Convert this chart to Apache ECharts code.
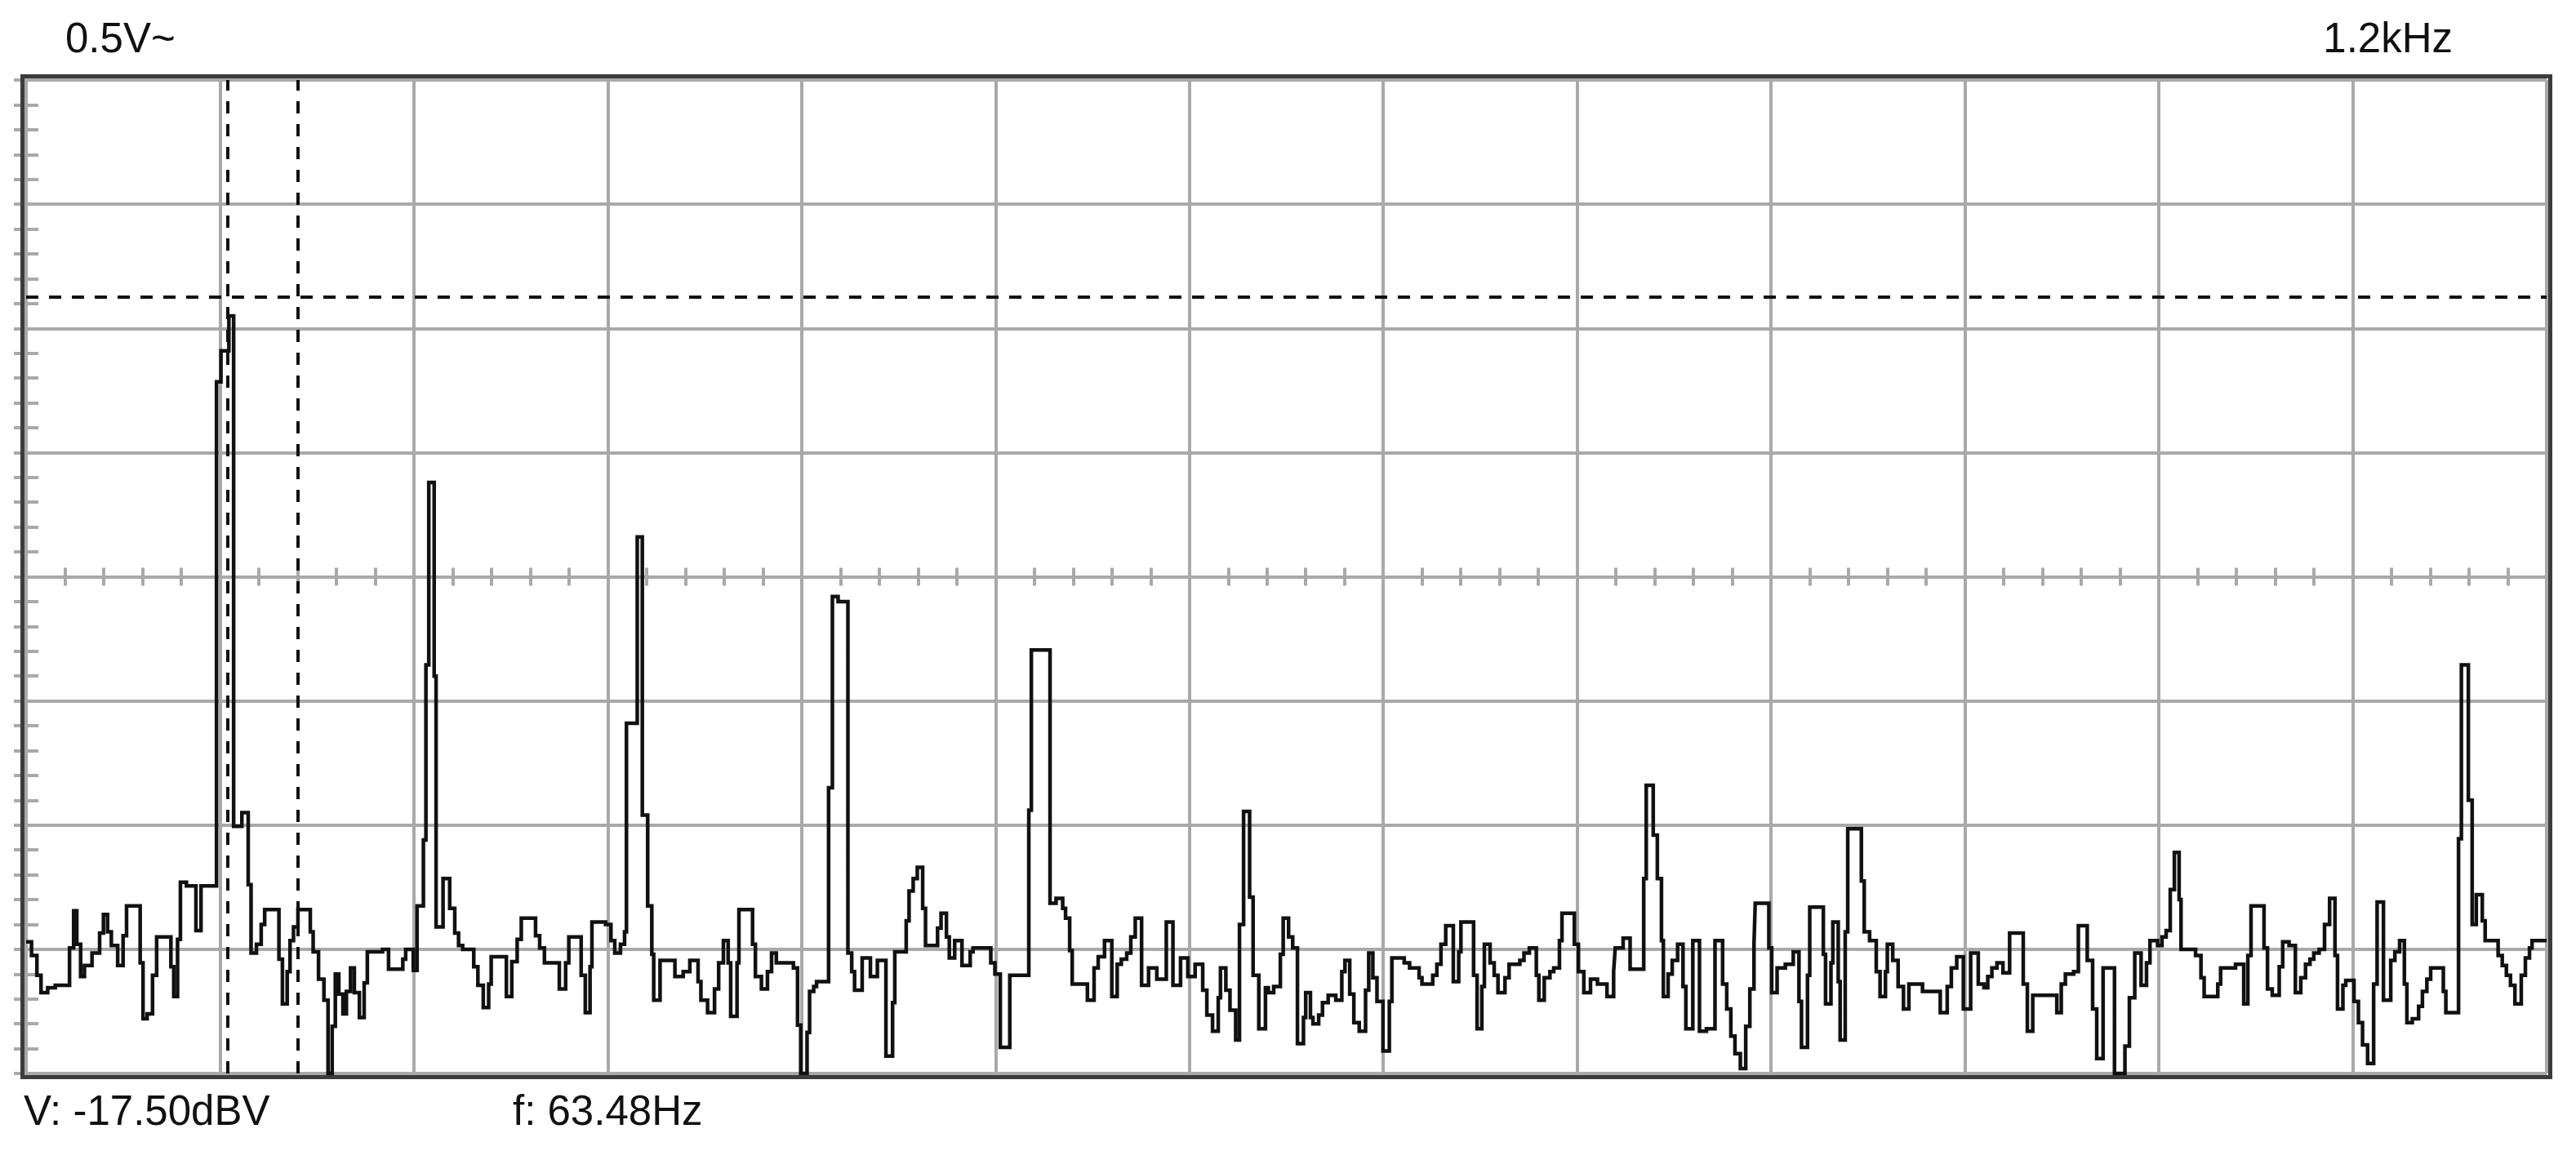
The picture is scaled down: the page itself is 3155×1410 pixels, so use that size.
<!DOCTYPE html>
<html>
<head>
<meta charset="utf-8">
<script src="https://cdn.jsdelivr.net/npm/echarts@6/dist/echarts.min.js"></script>
<style>
html,body{margin:0;padding:0;background:#fff;}
#chart{width:3155px;height:1410px;}
</style>
</head>
<body>
<div id="chart"></div>
<script>
// Spectrum trace: frequency (Hz) of each level change and level (dBV)
const freq = [
0.0,1.7,3.4,4.7,6.8,9.2,13.7,15.0,16.0,17.2,18.4,20.8,23.2,24.4,25.7,26.9,28.9,30.6,31.7,36.0,36.9,38.2,39.9,41.2,45.7,46.6,47.8,48.7,50.6,53.6,55.2,
60.1,61.5,64.0,65.5,68.1,70.1,71.0,72.7,74.2,75.3,79.8,80.9,82.4,83.3,84.4,85.8,89.7,90.6,92.3,94.0,95.3,96.6,97.6,98.7,100.0,101.1,102.4,103.6,105.2,106.7,107.7,112.5,114.4,118.9,119.8,122.2,123.4,125.4,
126.2,127.1,128.8,
129.4,131.6,133.7,135.3,136.5,137.8,141.3,142.6,144.3,146.0,146.8,151.6,153.3,155.0,156.3,160.8,162.1,163.6,168.3,170.3,171.3,175.2,176.5,178.0,178.6,182.9,184.6,185.8,187.6,188.9,
189.5,192.9,194.5,196.2,197.5,198.1,200.1,204.8,207.4,209.5,212.1,213.0,215.1,217.3,218.6,220.1,221.6,222.4,224.4,225.0,229.3,230.2,232.1,234.0,235.3,236.8,242.2,243.5,244.5,246.5,247.3,248.6,249.5,
253.3,254.5,256.3,259.4,260.6,
261.5,263.9,266.5,268.7,271.4,273.5,274.2,277.8,278.7,280.0,281.3,283.0,283.9,287.7,288.8,290.5,291.4,293.1,295.4,298.0,298.9,304.5,305.8,307.5,310.5,316.5,
317.3,323.2,325.1,327.2,328.1,329.4,330.2,335.0,337.1,338.4,340.4,342.7,344.4,345.7,347.4,348.7,350.1,352.1,354.3,356.9,359.9,362.0,364.4,366.7,369.0,371.4,372.7,374.5,376.3,377.0,378.7,380.0,381.8,383.0,384.3,386.2,387.3,389.1,391.2,
392.1,393.8,395.9,396.8,398.5,399.8,401.3,403.2,403.9,405.4,406.2,408.0,409.2,411.0,413.4,415.3,416.3,417.8,419.1,420.8,422.8,423.8,425.1,426.4,428.3,430.3,431.1,435.0,436.7,439.7,440.6,444.0,445.3,446.6,448.1,450.5,452.2,452.9,456.9,458.0,459.5,460.3,462.1,463.4,464.6,466.8,468.1,471.5,472.8,474.5,476.7,477.5,479.2,481.0,482.2,484.0,484.8,488.7,490.0,491.7,493.8,496.0,499.0,501.1,501.6,504.1,506.3,510.6,511.4,513.6,514.9,516.2,516.8,518.3,519.6,521.3,523.0,523.9,
526.1,528.2,530.4,533.1,535.5,536.8,538.1,539.4,541.1,542.8,544.1,545.4,545.8,550.1,551.0,552.7,555.3,557.8,559.6,560.4,562.3,563.0,567.3,568.0,569.7,570.3,572.0,572.6,574.2,575.0,579.3,580.2,581.9,584.0,585.2,586.9,587.5,589.2,590.9,592.6,594.3,598.6,604.2,606.4,607.7,609.4,611.5,613.8,616.2,618.0,619.2,620.5,622.1,624.0,626.1,630.4,631.7,633.4,641.0,642.4,643.7,646.3,647.8,650.6,652.3,653.6,655.6,659.2,
662.5,663.9,665.6,667.6,669.3,670.4,672.8,674.2,675.5,676.8,678.1,679.6,680.2,684.8,686.5,687.5,691.8,692.7,697.4,700.0,701.3,702.3,706.4,707.5,709.0,711.2,712.3,714.3,716.3,718.0,719.5,720.9,722.1,723.8,725.5,727.1,728.8,729.6,731.3,732.2,734.8,736.2,737.5,739.1,741.0,742.1,744.1,746.4,747.7,749.2,750.7,751.5,753.2,755.2,756.4,757.8,759.0,763.0,763.8,767.8,768.7,770.9,772.1,773.4,775.3,776.2,780.3,781.6,782.9,784.2,785.6,787.6,788.9,790.2,791.0,795.6
];
const dbv = [
-69.4,-70.5,-72.1,-73.5,-73.1,-72.9,-69.9,-66.9,-69.6,-72.2,-71.3,-70.3,-68.7,-67.2,-68.6,-69.7,-71.3,-68.9,-66.5,-71.1,-75.6,-75.2,-72.1,-69.0,-71.4,-73.8,-69.2,-64.6,-64.9,-68.5,-64.9,
-24.3,-21.8,-19.0,-60.1,-59.0,-64.8,-70.3,-69.6,-68.0,-66.8,-70.8,-74.4,-71.8,-69.3,-68.2,-66.8,-68.6,-70.2,-72.4,-74.1,-80.0,-76.2,-72.0,-73.6,-75.2,-73.4,-71.5,-73.5,-75.5,-72.7,-70.2,-70.0,-71.6,-70.8,-70.0,-71.7,-66.5,-61.2,
-47.1,-32.4,-48.0,
-68.2,-64.3,-66.7,-68.7,-69.7,-70.0,-71.4,-72.9,-74.7,-72.8,-70.6,-73.8,-71.0,-69.2,-67.5,-68.9,-69.9,-71.1,-73.2,-71.1,-69.0,-72.1,-75.1,-71.4,-67.8,-68.0,-69.3,-70.3,-69.6,-68.6,
-51.8,-36.8,-59.2,-66.5,-70.4,-74.1,-70.9,-72.2,-71.8,-70.9,-72.6,-74.1,-75.1,-73.2,-71.1,-69.3,-71.1,-75.4,-71.1,-66.8,-69.6,-72.2,-73.2,-71.8,-70.3,-71.1,-71.5,-76.1,-80.0,-76.7,-73.4,-73.0,-72.6,
-57.0,-41.6,-42.0,-70.3,-71.8,
-73.3,-70.7,-72.2,-70.9,-78.6,-74.3,-70.2,-67.7,-65.3,-64.3,-63.4,-66.7,-69.7,-68.3,-67.1,-69.0,-70.7,-69.3,-71.3,-70.2,-69.9,-71.1,-72.0,-77.9,-72.1,-58.8,
-45.9,-66.3,-65.9,-66.7,-67.5,-70.1,-72.8,-74.1,-71.5,-70.6,-69.3,-73.8,-71.2,-70.8,-70.3,-69.0,-67.5,-72.9,-71.5,-72.4,-67.8,-72.9,-70.7,-72.2,-71.2,-73.3,-75.3,-76.6,-73.9,-71.5,-73.3,-74.9,-77.3,-68.0,-58.9,-65.8,-72.1,-76.4,-73.1,
-73.5,-73.0,-70.4,-67.5,-69.0,-69.9,-77.6,-75.5,-73.5,-75.5,-76.0,-75.3,-74.3,-73.7,-74.1,-71.8,-70.9,-73.6,-75.9,-76.6,-73.3,-70.3,-72.3,-74.2,-78.2,-74.2,-70.7,-71.1,-71.5,-72.3,-72.8,-72.1,-71.2,-69.6,-68.1,-72.6,-70.2,-67.8,-72.1,-76.4,-73.0,-69.6,-71.1,-72.1,-73.5,-72.3,-71.2,-70.9,-70.3,-69.9,-72.1,-74.1,-72.3,-71.8,-71.5,-69.3,-67.1,-69.6,-71.8,-73.5,-72.4,-72.8,-73.8,-71.8,-69.9,-69.1,-71.6,-64.3,-56.8,-60.8,-64.3,-69.3,-73.8,-72.0,-70.9,-69.6,-73.0,-76.4,
-69.3,-76.6,-76.4,-69.3,-72.8,-74.8,-77.0,-78.4,-79.6,-76.2,-73.2,-69.6,-66.3,-69.9,-73.5,-71.5,-71.2,-70.2,-74.2,-77.9,-72.1,-66.6,-70.4,-74.4,-71.1,-67.8,-72.6,-77.3,-68.6,-60.3,-64.5,-68.6,-69.3,-71.8,-73.8,-71.8,-69.6,-70.9,-73.0,-74.8,-72.8,-73.4,-75.1,-73.0,-71.5,-70.6,-74.8,-70.3,-72.8,-73.1,-72.2,-71.5,-71.1,-71.9,-68.7,-72.8,-76.6,-73.7,-75.1,-72.8,-72.0,-71.8,-68.1,-70.9,-74.8,-78.8,-71.5,-80.0,
-77.8,-73.9,-70.3,-72.9,-71.1,-69.3,-69.7,-69.0,-68.5,-65.2,-62.2,-66.0,-70.0,-70.5,-72.3,-73.8,-72.8,-71.5,-71.2,-74.4,-70.5,-66.5,-69.9,-73.2,-73.7,-71.4,-69.4,-69.7,-73.5,-72.3,-71.2,-70.8,-70.3,-70.0,-68.0,-65.9,-70.5,-74.8,-72.9,-72.5,-74.2,-75.9,-77.7,-79.2,-72.8,-66.2,-74.1,-70.9,-70.2,-69.3,-72.8,-75.9,-75.6,-74.6,-73.4,-72.4,-71.5,-73.4,-75.1,-61.1,-47.1,-58.0,-68.0,-65.6,-67.7,-69.3,-70.5,-71.3,-72.1,-72.9,-74.4,-72.1,-70.7,-69.9,-69.3,-69.3
];
// Cursors
const cursorFreqs = [63.48, 85.7];
const cursorLevels = [-17.5];
// Axis scale: 13 divisions of 61.2 Hz, 8 divisions of 10 dB
const hzPerDiv = 61.2;
const xDivs = 13;
const yMin = -80, yMax = 0, yStep = 10;
// Texts
const topLeftText = '0.5V~';
const topRightText = '1.2kHz';
const readoutV = 'V: -17.50dBV';
const readoutF = 'f: 63.48Hz';

const xMax = +(hzPerDiv * xDivs).toFixed(1);
const seriesData = freq.map((f, i) => [f, dbv[i]]);

const GRID = '#a9a9a9';
const INK = '#111111';
const FONT = '"Liberation Sans", Arial, sans-serif';

const chart = echarts.init(document.getElementById('chart'), null, {renderer: 'canvas'});

const baseX = {
  type: 'value', min: 0, max: xMax, interval: hzPerDiv,
  axisLabel: {show: false}, axisLine: {show: false}
};
const midOffset = -(1410 - 98 - 95) / 2;

const texts = [
  {type: 'text', left: 80, top: 24, style: {text: topLeftText, font: '51px ' + FONT, fill: INK}},
  {type: 'text', right: 3155 - 3004, top: 24, style: {text: topRightText, font: '51px ' + FONT, fill: INK}},
  {type: 'text', left: 29, top: 1338, style: {text: readoutV, font: '51px ' + FONT, fill: INK}},
  {type: 'text', left: 628, top: 1338, style: {text: readoutF, font: '51px ' + FONT, fill: INK}}
];

chart.setOption({
  animation: false,
  backgroundColor: '#ffffff',
  grid: {left: 32, right: 36, top: 98, bottom: 95, containLabel: false},
  xAxis: [
    Object.assign({}, baseX, {
      axisTick: {show: false},
      splitLine: {show: true, lineStyle: {color: GRID, width: 4}}
    }),
    Object.assign({}, baseX, {
      offset: midOffset,
      axisTick: {show: true, inside: true, length: 11, lineStyle: {color: GRID, width: 4}},
      minorTick: {show: true, splitNumber: 5, length: 11, lineStyle: {color: GRID, width: 4}},
      splitLine: {show: false}
    }),
    Object.assign({}, baseX, {
      offset: midOffset,
      axisTick: {show: true, inside: false, length: 11, lineStyle: {color: GRID, width: 4}},
      minorTick: {show: true, splitNumber: 5, length: 11, lineStyle: {color: GRID, width: 4}},
      splitLine: {show: false}
    })
  ],
  yAxis: [
    {
      type: 'value', min: yMin, max: yMax, interval: yStep, position: 'left',
      axisLabel: {show: false}, axisLine: {show: false},
      axisTick: {show: true, inside: true, length: 15, lineStyle: {color: GRID, width: 4}},
      minorTick: {show: true, splitNumber: 5, length: 15, lineStyle: {color: GRID, width: 4}},
      splitLine: {show: true, lineStyle: {color: GRID, width: 4}}
    },
    {
      type: 'value', min: yMin, max: yMax, interval: yStep, position: 'right',
      axisLabel: {show: false}, axisLine: {show: false},
      axisTick: {show: true, inside: true, length: 15, lineStyle: {color: GRID, width: 4}},
      minorTick: {show: true, splitNumber: 5, length: 15, lineStyle: {color: GRID, width: 4}},
      splitLine: {show: false}
    }
  ],
  series: [{
    type: 'line',
    xAxisIndex: 0, yAxisIndex: 0,
    data: seriesData,
    step: 'end',
    showSymbol: false, symbol: 'none',
    clip: true,
    lineStyle: {color: INK, width: 4.5, join: 'miter', cap: 'butt'},
    z: 5,
    markLine: {
      silent: true, symbol: 'none', animation: false,
      label: {show: false},
      lineStyle: {color: INK, width: 4, type: [15, 13]},
      data: cursorFreqs.map(f => ({xAxis: f})).concat(cursorLevels.map(v => ({yAxis: v})))
    }
  }],
  graphic: texts
});

// Dark frame around the plot area, derived from the grid corners
const p0 = chart.convertToPixel({xAxisIndex: 0, yAxisIndex: 0}, [0, yMax]);
const p1 = chart.convertToPixel({xAxisIndex: 0, yAxisIndex: 0}, [xMax, yMin]);
const pad = 4.5;
chart.setOption({
  graphic: texts.concat([
    {type: 'rect', z: 100, silent: true,
     shape: {x: p0[0] - pad, y: p0[1] - pad, width: (p1[0] - p0[0]) + 2 * pad, height: (p1[1] - p0[1]) + 2 * pad},
     style: {fill: 'none', stroke: '#3c3c3c', lineWidth: 5}}
  ])
}, {replaceMerge: ['graphic']});
</script>
</body>
</html>
